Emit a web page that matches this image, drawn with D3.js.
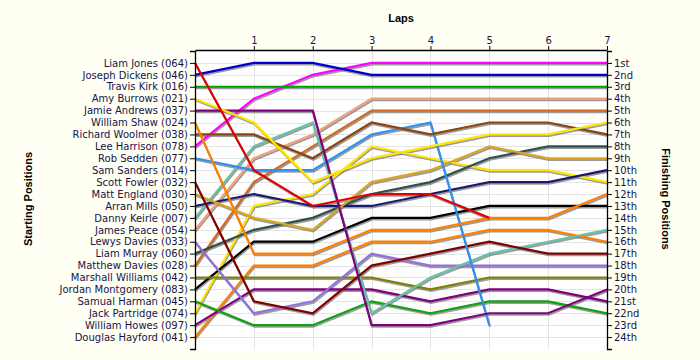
<!DOCTYPE html>
<html><head><meta charset="utf-8">
<script src="https://cdn.jsdelivr.net/npm/d3@7"></script>
<style>
html,body{margin:0;padding:0;background:#fffff3;}
svg{display:block;}
</style></head>
<body><svg id="c" width="700" height="360"></svg>
<script>
const laps = [0,1,2,3,4,5,6,7];
const drivers = ["Liam Jones (064)","Joseph Dickens (046)","Travis Kirk (016)","Amy Burrows (021)","Jamie Andrews (037)","William Shaw (024)","Richard Woolmer (038)","Lee Harrison (078)","Rob Sedden (077)","Sam Sanders (014)","Scott Fowler (032)","Matt England (030)","Arran Mills (050)","Danny Keirle (007)","James Peace (054)","Lewys Davies (033)","Liam Murray (060)","Matthew Davies (028)","Marshall Williams (042)","Jordan Montgomery (083)","Samual Harman (045)","Jack Partridge (074)","William Howes (097)","Douglas Hayford (041)"];
const positions = [
  [1,10,13,12,12,14],
  [2,1,1,2,2,2,2,2],
  [3,3,3,3,3,3,3,3],
  [4,6,11,9,8,7,7,6],
  [5,5,5,23,23,22,22,20],
  [6,17,17,15,15,14,14,12],
  [7,7,9,6,7,6,6,7],
  [8,4,2,1,1,1,1,1],
  [9,10,10,7,6,23],
  [10],
  [11,21,22,18,17,16,17,17],
  [12,14,15,11,10,8,9,9],
  [13,12,13,13,12,11,11,10],
  [14,8,6,22,19,17,16,15],
  [15,9,7,4,4,4,4,4],
  [16,22,21,17,18,18,18,18],
  [17,15,14,12,11,9,8,8],
  [18,11,8,5,5,5,5,5],
  [19,19,19,19,20,19,19,19],
  [20,16,16,14,14,13,13,13],
  [21,23,23,21,22,21,21,22],
  [22,13,12,8,9,10,10,11],
  [23,20,20,20,21,20,20,21],
  [24,18,18,16,16,15,15,16]
];
const colors = ["#e00000","#0000cd","#00a000","#ffe600","#800080","#ff8000","#8b4513","#ff00ff","#2e90f0","#999999","#800000","#daa520","#191970","#66c2a5","#f4a07a","#9370db","#2f4f4f","#d2691e","#808000","#000000","#10a010","#ffe600","#800080","#ff8000"];
const finishLabels = ["1st","2nd","3rd","4th","5th","6th","7th","8th","9th","10th","11th","12th","13th","14th","15th","16th","17th","18th","19th","20th","21st","22nd","23rd","24th"];
const posTicks = d3.range(1,25);

const svg = d3.select("#c");
const x = d3.scaleLinear().domain([0,7]).range([195,607]);
const y = d3.scaleLinear().domain([0,25]).range([51,349]);
const txt = "#14144a";

// plot background
svg.append("rect").attr("x",x(0)).attr("y",50).attr("width",x(7)-x(0)).attr("height",y(25)-50).attr("fill","#ffffff");

// grid
const grid = svg.append("g").attr("stroke","#e4e4e4").attr("stroke-width",1);
posTicks.forEach(p=>{
  grid.append("line").attr("x1",x(0)).attr("x2",x(7)).attr("y1",Math.round(y(p))+0.5).attr("y2",Math.round(y(p))+0.5);
});
laps.slice(1,7).forEach(l=>{
  grid.append("line").attr("y1",50).attr("y2",y(25)).attr("x1",Math.round(x(l))+0.5).attr("x2",Math.round(x(l))+0.5);
});

// lines
const line = d3.line().x((d,i)=>x(laps[i])).y(d=>y(d));
const order = d3.range(drivers.length).reverse();
const shadowG = svg.append("g").attr("transform","translate(0.8,1.6)");
const lineG = svg.append("g");
order.forEach(i=>{
  if (positions[i].length < 2) return;
  shadowG.append("path").attr("d",line(positions[i])).attr("fill","none")
    .attr("stroke","#7a7a7a").attr("stroke-opacity",0.75).attr("stroke-width",2).attr("stroke-linejoin","miter");
});
order.forEach(i=>{
  if (positions[i].length < 2) return;
  lineG.append("path").attr("d",line(positions[i])).attr("fill","none")
    .attr("stroke",colors[i]).attr("stroke-width",2.2).attr("stroke-linejoin","miter");
});

// axes
const fontTick = "DejaVu Sans, Verdana, sans-serif";
const leftAx = svg.append("g").attr("transform",`translate(${x(0)},0)`)
  .call(d3.axisLeft(y).tickValues(posTicks).tickSize(5).tickSizeOuter(5).tickFormat(d=>drivers[d-1]));
const rightAx = svg.append("g").attr("transform",`translate(${x(7)},0)`)
  .call(d3.axisRight(y).tickValues(posTicks).tickSize(5).tickSizeOuter(5).tickFormat(d=>finishLabels[d-1]));
const topAx = svg.append("g").attr("transform",`translate(0,50)`)
  .call(d3.axisTop(x).tickValues([1,2,3,4,5,6,7]).tickSize(4).tickSizeOuter(0).tickFormat(d3.format("d")));
[leftAx,rightAx,topAx].forEach(a=>{
  a.selectAll("path").attr("stroke","#000").attr("stroke-width",1.3);
  a.selectAll("line").attr("stroke","#000");
  a.selectAll("text").attr("fill",txt).attr("font-family",fontTick).attr("font-size",10);
});
leftAx.selectAll("text").attr("x",-7);
rightAx.selectAll("text").attr("x",7);
topAx.selectAll("text").attr("y",-6);

// titles
const fontTitle = "Liberation Sans, Arial, sans-serif";
svg.append("text").attr("x",401).attr("y",22).attr("text-anchor","middle")
  .attr("font-family",fontTitle).attr("font-weight","bold").attr("font-size",11).text("Laps");
svg.append("text").attr("transform","translate(32,199) rotate(-90)").attr("text-anchor","middle")
  .attr("font-family",fontTitle).attr("font-weight","bold").attr("font-size",11).text("Starting Positions");
svg.append("text").attr("transform","translate(662,199) rotate(90)").attr("text-anchor","middle")
  .attr("font-family",fontTitle).attr("font-weight","bold").attr("font-size",11).text("Finishing Positions");
</script></body></html>
